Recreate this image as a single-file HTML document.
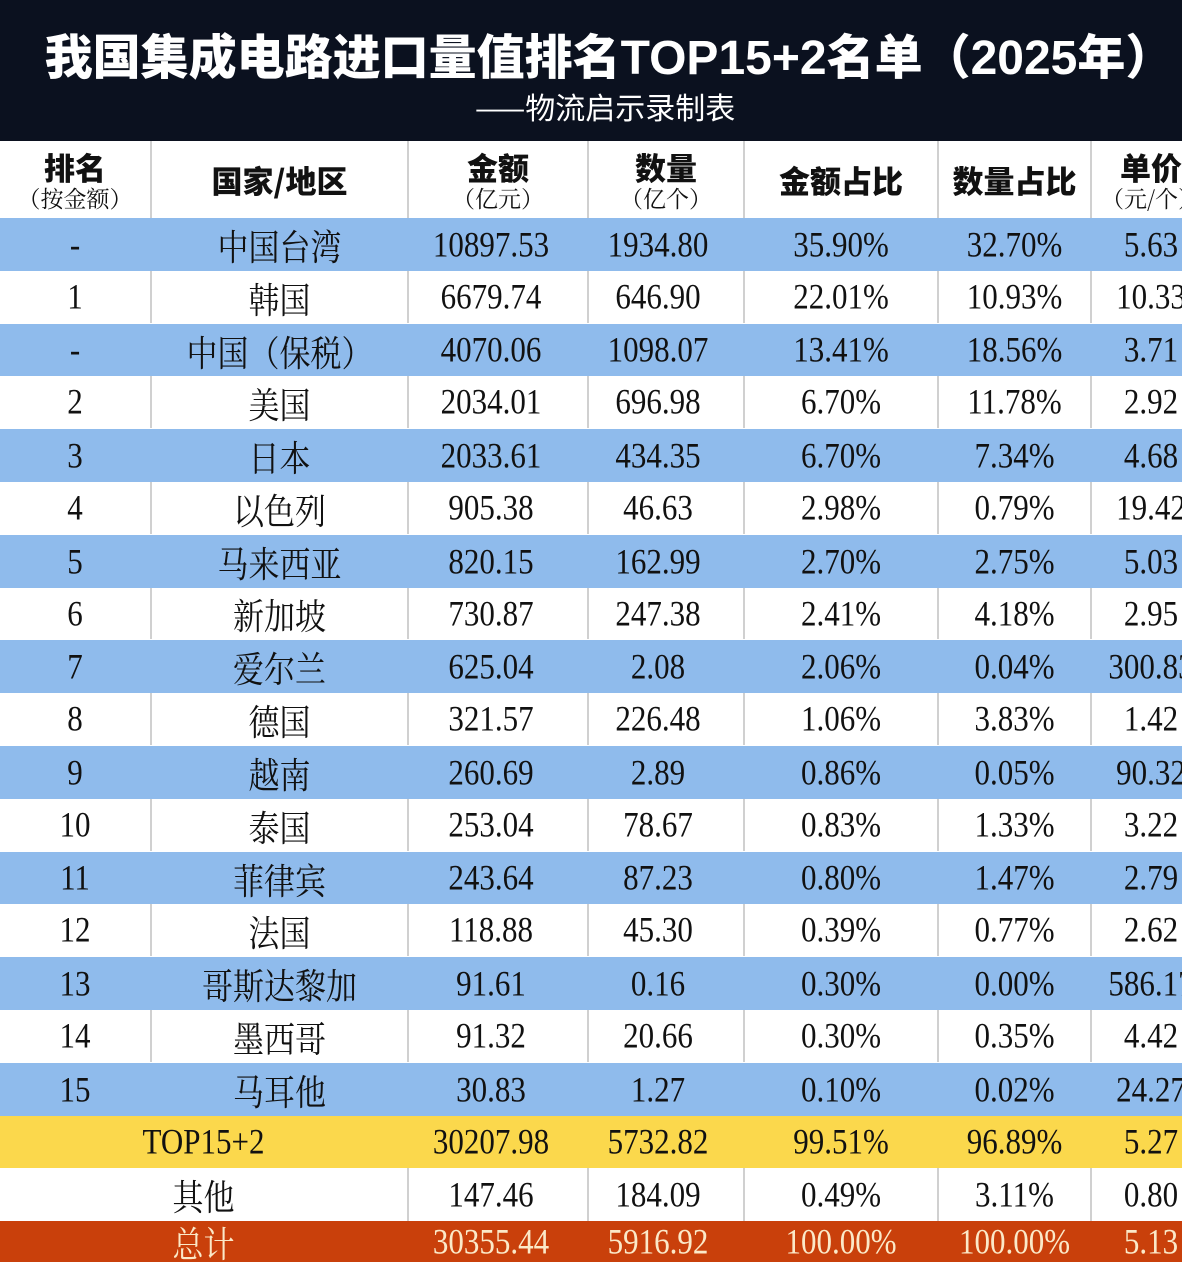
<!DOCTYPE html>
<html><head><meta charset="utf-8"><style>
body{margin:0;width:1182px;height:1262px;overflow:hidden;background:#fff;position:relative;font-family:"Liberation Serif","Noto Serif CJK SC",serif}
.t{position:absolute;left:0;top:0;width:1182px;height:141px;background:#0b111f}
.h1{position:absolute;left:18px;width:1182px;top:18px;text-align:center;color:#fff;font:900 48px "Liberation Sans","Noto Sans CJK SC",sans-serif}
.h2{position:absolute;left:475px;top:84px;color:#fff;font:30px "Noto Sans CJK SC",sans-serif}
.r{position:absolute;left:0;width:1182px}
.c{position:absolute;top:0;height:100%;display:flex;align-items:center;justify-content:center;font-size:31px;color:#111;white-space:nowrap;border-left:2px solid #d0d0d0;box-sizing:border-box}
.c span{display:inline-block;transform:scaleY(1.15)}
.b .c{border-left-color:transparent}
.hd .c{flex-direction:column;font-family:"Noto Sans CJK SC",sans-serif;font-weight:900;font-size:31px;line-height:36px}
.hd .c span{transform:none}
.hd small{font-weight:400;font-size:23px;line-height:26px;font-family:"Noto Serif CJK SC",serif}
</style></head><body>
<div class="t"><div class="h1">我国集成电路进口量值排名TOP15+2名单（2025年）</div><div class="h2">——物流启示录制表</div></div>
<script>
var X=[0,150,407,587,743,937,1090,1210];
var PAD=[0,0,14,16,0,0,0];
function row(top,h,bg,cells,cls,color,merge){
 var d=document.createElement('div');d.className='r '+(cls||'');d.style.top=top+'px';d.style.height=h+'px';d.style.background=bg;
 var xs=merge?[0,407,587,743,937,1090,1210]:X;
 var off=merge?1:0;
 for(var i=0;i<cells.length;i++){var c=document.createElement('div');c.className='c';c.style.left=xs[i]+'px';c.style.width=(xs[i+1]-xs[i])+'px';if(i==0)c.style.borderLeft='none';
 var isHd=cls&&cls.indexOf('hd')>=0;
 if(!isHd){var p=PAD[i+off]||0;c.style.paddingRight=p+'px';}
 c.innerHTML=isHd?cells[i]:'<span>'+cells[i]+'</span>';if(color)c.style.color=color;d.appendChild(c);}
 document.body.appendChild(d);
}
row(141,77,'#fff',['排名<small>（按金额）</small>','国家/地区','金额<small>（亿元）</small>','数量<small>（亿个）</small>','金额占比','数量占比','单价<small>（元/个）</small>'],'hd');
var D=[['-','中国台湾','10897.53','1934.80','35.90%','32.70%','5.63'],['1','韩国','6679.74','646.90','22.01%','10.93%','10.33'],['-','中国（保税）','4070.06','1098.07','13.41%','18.56%','3.71'],['2','美国','2034.01','696.98','6.70%','11.78%','2.92'],['3','日本','2033.61','434.35','6.70%','7.34%','4.68'],['4','以色列','905.38','46.63','2.98%','0.79%','19.42'],['5','马来西亚','820.15','162.99','2.70%','2.75%','5.03'],['6','新加坡','730.87','247.38','2.41%','4.18%','2.95'],['7','爱尔兰','625.04','2.08','2.06%','0.04%','300.83'],['8','德国','321.57','226.48','1.06%','3.83%','1.42'],['9','越南','260.69','2.89','0.86%','0.05%','90.32'],['10','泰国','253.04','78.67','0.83%','1.33%','3.22'],['11','菲律宾','243.64','87.23','0.80%','1.47%','2.79'],['12','法国','118.88','45.30','0.39%','0.77%','2.62'],['13','哥斯达黎加','91.61','0.16','0.30%','0.00%','586.17'],['14','墨西哥','91.32','20.66','0.30%','0.35%','4.42'],['15','马耳他','30.83','1.27','0.10%','0.02%','24.27']];
for(var i=0;i<17;i++){var t=218+i*52.8;var blue=i%2==0;row(Math.round(t),Math.round(t+52.8)-Math.round(t)-(blue?0:1),blue?'#8fbbec':'#fff',D[i],blue?'b':'');}
row(1116,52,'#fbd84c',['TOP15+2','30207.98','5732.82','99.51%','96.89%','5.27'],'b','',1);
row(1168,53,'#fff',['其他','147.46','184.09','0.49%','3.11%','0.80'],'','',1);
row(1221,41,'#c9400b',['总计','30355.44','5916.92','100.00%','100.00%','5.13'],'b','#fbe9c8',1);
</script>
</body></html>
